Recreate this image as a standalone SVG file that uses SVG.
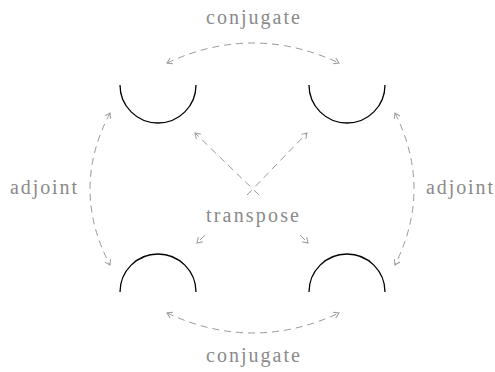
<svg xmlns="http://www.w3.org/2000/svg" width="495" height="372" viewBox="0 0 495 372">
<defs>
<style>
.cup{fill:none;stroke:#000;stroke-width:1.3}
.con{fill:none;stroke:#999;stroke-width:1;stroke-dasharray:7,5;marker-start:url(#ah);marker-end:url(#ah)}
.one{fill:none;stroke:#999;stroke-width:1;stroke-dasharray:7,5;marker-end:url(#ah)}
.lbl{font-family:"Liberation Serif","DejaVu Serif",serif;font-size:20px;fill:#8a8a8a}
</style>
<marker id="ah" viewBox="-6 -4 7 8" markerWidth="7" markerHeight="8" refX="0" refY="0" orient="auto-start-reverse" markerUnits="userSpaceOnUse">
<path d="M-5,-3.2 L0,0 L-5,3.2" fill="none" stroke="#999" stroke-width="1"/>
</marker>
</defs>
<rect width="495" height="372" fill="#fff"/>
<g id="cup-tl"><path class="cup" d="M120,85 A38,38 0 0 0 196,85"/></g>
<g id="cup-tr"><path class="cup" d="M309,85 A38,38 0 0 0 385,85"/></g>
<g id="cap-bl"><path class="cup" d="M120,292 A38,38 0 0 1 196,292"/></g>
<g id="cap-br"><path class="cup" d="M309,292 A38,38 0 0 1 385,292"/></g>
<g id="connectors">
<path class="con" d="M167,63 Q253,23 339,63"/>
<path class="con" d="M167,313 Q253,353 339,313"/>
<path class="con" d="M110,113 Q70,189 110,265"/>
<path class="con" d="M395,113 Q433,189 395,265"/>
<path class="one" d="M259,195 L195,133"/>
<path class="one" d="M247,195 L307,133"/>
<path class="one" d="M205,235 L197,243"/>
<path class="one" d="M300,235 L308,243"/>
</g>
<g id="labels">
<text class="lbl" x="253" y="24" text-anchor="middle" textLength="94" lengthAdjust="spacing">conjugate</text>
<text class="lbl" x="253" y="362" text-anchor="middle" textLength="94" lengthAdjust="spacing">conjugate</text>
<text class="lbl" x="10" y="194" textLength="67" lengthAdjust="spacing">adjoint</text>
<text class="lbl" x="426" y="194" textLength="67" lengthAdjust="spacing">adjoint</text>
<text class="lbl" x="206" y="222" textLength="93" lengthAdjust="spacing">transpose</text>
</g>
</svg>
